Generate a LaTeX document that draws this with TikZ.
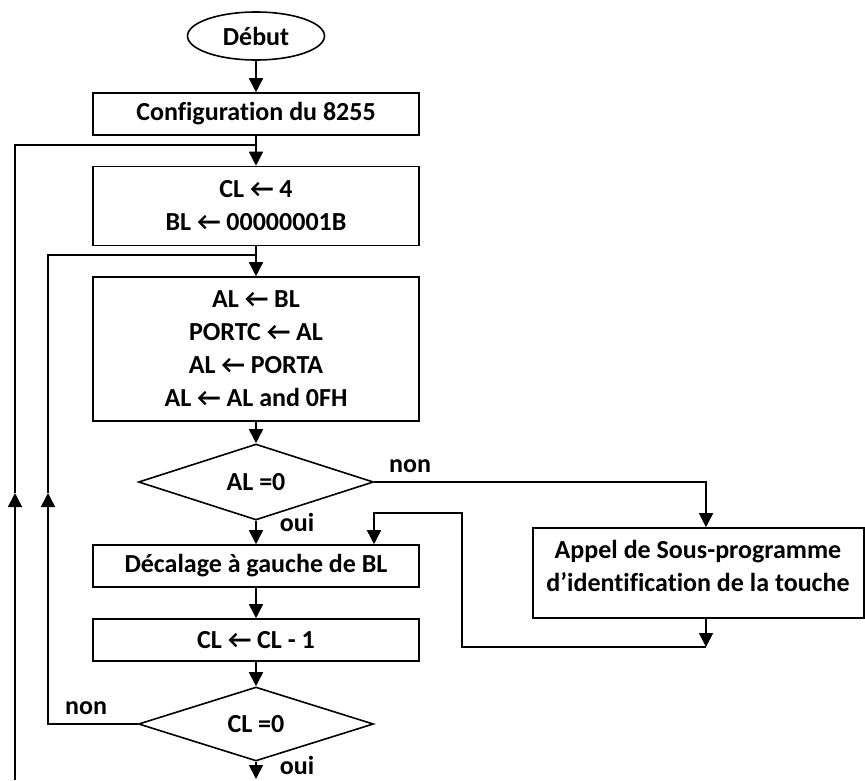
\documentclass[tikz,border=0pt]{standalone}
\usepackage{fontspec}
\setmainfont{Carlito}[Ligatures={NoCommon,NoRare}]
\usetikzlibrary{arrows.meta,shapes.geometric}
\begin{document}
\begin{tikzpicture}[x=1pt,y=-1pt,
  every node/.style={font=\fontsize{26}{33}\selectfont\bfseries},
  line/.style={line width=1.6pt},
  arr/.style={line, -{Triangle[width=14pt,length=14pt]}},
  procbox/.style={draw, line width=1.6pt, rectangle, minimum width=326pt, inner sep=0pt, align=center},
  decision/.style={draw, line width=1.6pt, diamond, minimum width=235pt, minimum height=61pt, inner sep=0pt},
  lbl/.style={inner sep=0pt}
]
\useasboundingbox (0,0) rectangle (865,780);
\node[draw, line width=1.6pt, ellipse, minimum width=137pt, minimum height=48pt, inner sep=0pt] (debut) at (256,36) {Début};
\node[procbox, minimum height=42pt] (config) at (256,114) {Configuration du 8255};
\node[procbox, minimum height=79pt] (cl) at (256,206) {CL ← 4\\BL ← 00000001B};
\node[procbox, minimum height=144pt] (al) at (256,349) {AL ← BL\\PORTC ← AL\\AL ← PORTA\\AL ← AL and 0FH};
\node[decision] (al0) at (256,482) {AL =0};
\node[procbox, minimum height=42pt] (dec) at (256,566) {Décalage à gauche de BL};
\node[procbox, minimum height=42pt] (cldec) at (256,640) {CL ← CL - 1};
\node[decision] (cl0) at (256,724) {CL =0};
\node[draw, line width=1.6pt, rectangle, minimum width=331pt, minimum height=90pt, inner sep=0pt] (appel) at (698.5,573) {};
\node[align=center, inner sep=0pt] (appeltxt) at (698,566) {Appel de Sous-programme\\d’identification de la touche};

\node[lbl] (non1) at (410,466) {non};
\node[lbl] (oui1) at (297,522) {oui};
\node[lbl] (non2) at (86,708) {non};
\node[lbl] (oui2) at (297,765) {oui};

\coordinate (ax) at (706,0);
\coordinate (j1) at (256,145);
\coordinate (j2) at (256,255);
\coordinate (b1) at (15,780);
\coordinate (m1) at (15,493);
\coordinate (m2) at (48,493);
\coordinate (r1) at (706,647);
\coordinate (r2) at (462,647);
\coordinate (r3) at (462,513);
\coordinate (rx) at (374,0);
\coordinate (fin) at (256,779);

\draw[arr] (debut) -- (config);
\draw[arr] (config) -- (cl);
\draw[arr] (cl) -- (al);
\draw[arr] (al) -- (al0);
\draw[arr] (al0) -- (dec);
\draw[arr] (dec) -- (cldec);
\draw[arr] (cldec) -- (cl0);
\draw[arr] (cl0) -- (fin);

\draw[arr] (b1) -- (m1);
\draw[line] (m1) |- (j1);
\draw[arr] (cl0.west) -| (m2);
\draw[line] (m2) |- (j2);

\draw[arr] (al0.east) -| (appel.north -| ax);
\draw[arr] (appel.south -| ax) -- (r1);
\draw[arr] (r1) -- (r2) -- (r3) -| (dec.north -| rx);
\end{tikzpicture}
\end{document}
